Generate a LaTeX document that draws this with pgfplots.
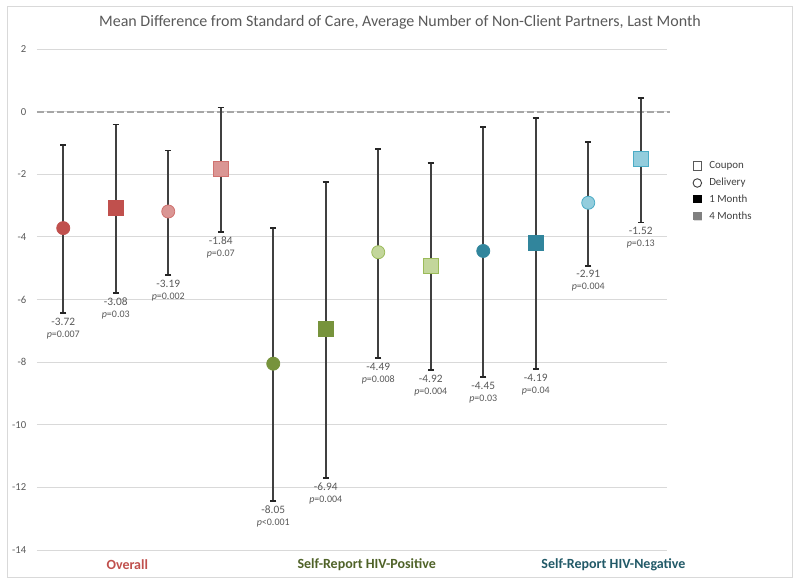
\documentclass[border=0pt]{standalone}
\usepackage{pgfplots}
\pgfplotsset{compat=1.18}
\usepackage{fontspec}
\setmainfont{Carlito}

\definecolor{txtgray}{HTML}{595959}
\definecolor{gridgray}{HTML}{D9D9D9}
\definecolor{bargray}{HTML}{404040}
\definecolor{redD}{HTML}{C0504D}
\definecolor{redL}{HTML}{DA9694}
\definecolor{redLb}{HTML}{D0726F}
\definecolor{grnD}{HTML}{77933C}
\definecolor{grnL}{HTML}{C3D69B}
\definecolor{grnLb}{HTML}{9BBB59}
\definecolor{tealD}{HTML}{31859C}
\definecolor{bluL}{HTML}{93CDDD}
\definecolor{bluLb}{HTML}{4BACC6}
\definecolor{posgrn}{HTML}{4F6228}
\definecolor{negteal}{HTML}{215967}

% one estimate with its confidence interval
\pgfplotsset{
  est/.style n args={3}{only marks, mark=#1,
    mark options={fill=#2, draw=#3, line width=0.6pt},
    error bars/y dir=both, error bars/y explicit},
}
% value and p under the lower end of the bar
\newcommand{\lab}[4]{\node[anchor=north, align=center, inner sep=0pt, yshift=-3.5pt,
  text=txtgray, font=\fontsize{8.5}{9}\selectfont] at (axis cs:#1,#2)
  {#3\\[0pt]{\fontsize{7.5}{8}\selectfont\textit{p}#4}};}

\begin{document}
\begin{tikzpicture}
\useasboundingbox (-27.75pt,-26.25pt) rectangle (572.25pt,412.5pt);
\draw[gridgray, line width=0.6pt] (-22.5pt,-20.25pt) rectangle (566.25pt,408pt);
\begin{axis}[
    width=472.5pt, height=375.75pt, scale only axis,
    xmin=-0.5, xmax=11.5, ymin=-14, ymax=2,
    xtick=\empty, ytick={-14,-12,...,2},
    ymajorgrids, grid style={line width=0.6pt, color=gridgray},
    axis line style={draw=none}, major tick length=0pt,
    yticklabel style={text=txtgray, font=\fontsize{8}{9}\selectfont, xshift=-4.5pt},
    /pgf/number format/assume math mode=true,
    every error bar/.append style={line width=1.2pt, color=bargray},
    error bars/error mark options={rotate=90, line width=1.4pt, color=black!85, mark size=2.4pt},
    clip=false,
]
\draw[color=black!35, line width=1.5pt, dash pattern=on 5.25pt off 2.25pt]
  (axis cs:-0.5,0) -- (axis cs:11.55,0);

% Overall
\addplot[est={*}{redD}{redD}, mark size=4.9pt] coordinates {(0,-3.72) += (0,2.66) -= (0,2.72)};
\addplot[est={square*}{redD}{redD}, mark size=5.6pt] coordinates {(1,-3.08) += (0,2.67) -= (0,2.72)};
\addplot[est={*}{redL}{redLb}, mark size=4.9pt] coordinates {(2,-3.19) += (0,1.95) -= (0,2.02)};
\addplot[est={square*}{redL}{redLb}, mark size=5.6pt] coordinates {(3,-1.84) += (0,1.97) -= (0,2.00)};
% Self-report HIV-positive
\addplot[est={*}{grnD}{grnD}, mark size=4.9pt] coordinates {(4,-8.05) += (0,4.32) -= (0,4.38)};
\addplot[est={square*}{grnD}{grnD}, mark size=5.6pt] coordinates {(5,-6.94) += (0,4.69) -= (0,4.75)};
\addplot[est={*}{grnL}{grnLb}, mark size=4.9pt] coordinates {(6,-4.49) += (0,3.31) -= (0,3.38)};
\addplot[est={square*}{grnL}{grnLb}, mark size=5.6pt] coordinates {(7,-4.92) += (0,3.29) -= (0,3.33)};
% Self-report HIV-negative
\addplot[est={*}{tealD}{tealD}, mark size=4.9pt] coordinates {(8,-4.45) += (0,3.96) -= (0,4.02)};
\addplot[est={square*}{tealD}{tealD}, mark size=5.6pt] coordinates {(9,-4.19) += (0,3.98) -= (0,4.03)};
\addplot[est={*}{bluL}{bluLb}, mark size=4.9pt] coordinates {(10,-2.91) += (0,1.95) -= (0,2.01)};
\addplot[est={square*}{bluL}{bluLb}, mark size=5.6pt] coordinates {(11,-1.52) += (0,1.95) -= (0,2.02)};

\lab{0}{-6.44}{-3.72}{=0.007}
\lab{1}{-5.80}{-3.08}{=0.03}
\lab{2}{-5.21}{-3.19}{=0.002}
\lab{3}{-3.84}{-1.84}{=0.07}
\lab{4}{-12.43}{-8.05}{<0.001}
\lab{5}{-11.69}{-6.94}{=0.004}
\lab{6}{-7.87}{-4.49}{=0.008}
\lab{7}{-8.25}{-4.92}{=0.004}
\lab{8}{-8.47}{-4.45}{=0.03}
\lab{9}{-8.22}{-4.19}{=0.04}
\lab{10}{-4.92}{-2.91}{=0.004}
\lab{11}{-3.54}{-1.52}{=0.13}

\node[font=\bfseries\fontsize{10.5}{12}\selectfont, text=redD] at (axis cs:1.22,-14) [yshift=-11.25pt] {Overall};
\node[font=\bfseries\fontsize{10.5}{12}\selectfont, text=posgrn] at (axis cs:5.78,-14) [yshift=-11.25pt] {Self-Report HIV-Positive};
\node[font=\bfseries\fontsize{10.5}{12}\selectfont, text=negteal] at (axis cs:10.48,-14) [yshift=-11.25pt] {Self-Report HIV-Negative};
\end{axis}

\node[text=txtgray, font=\fontsize{12}{14}\selectfont] at (272.25pt,396pt)
  {Mean Difference from Standard of Care, Average Number of Non-Client Partners, Last Month};

% legend
\begin{scope}[font=\fontsize{8.2}{9}\selectfont, text=bargray]
\draw[txtgray, line width=0.6pt, fill=white] (492pt,285pt) rectangle +(6.5pt,6.5pt);
\node[anchor=west, inner sep=0pt] at (504pt,288.25pt) {Coupon};
\draw[bargray, line width=0.7pt] (495.25pt,275.25pt) circle (3.2pt);
\node[anchor=west, inner sep=0pt] at (504pt,275.25pt) {Delivery};
\fill[black] (492pt,260pt) rectangle +(6.5pt,6.5pt);
\node[anchor=west, inner sep=0pt] at (504pt,263.25pt) {1 Month};
\fill[black!15] (492.6pt,246.6pt) rectangle +(6.5pt,6.5pt);
\fill[black!50] (492pt,247.25pt) rectangle +(6.5pt,6.5pt);
\node[anchor=west, inner sep=0pt] at (504pt,250.5pt) {4 Months};
\end{scope}
\end{tikzpicture}
\end{document}
